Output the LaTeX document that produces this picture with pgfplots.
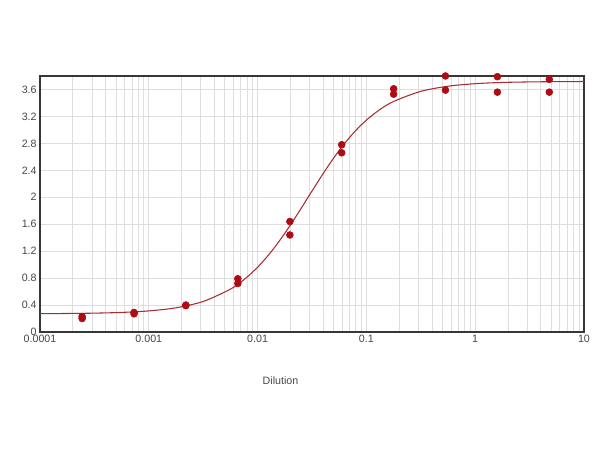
\documentclass[border=0pt]{standalone}
\usepackage{pgfplots}
\pgfplotsset{compat=1.18}
\usepackage{fontspec}
\setmainfont{Liberation Sans}

\definecolor{markred}{RGB}{172,12,20}
\definecolor{fitred}{RGB}{168,45,50}
\definecolor{gridgray}{RGB}{222,222,222}
\definecolor{framegray}{RGB}{55,55,55}
\definecolor{textgray}{RGB}{70,70,70}

\begin{document}
\begin{tikzpicture}
  \begin{axis}[
      scale only axis,
      width=408pt, height=192pt,
      xmode=log,
      xmin=0.0001, xmax=10,
      ymin=0, ymax=3.8,
      ytick={0,0.4,...,3.6},
      yticklabels={0,0.4,0.8,1.2,1.6,2,2.4,2.8,3.2,3.6},
      xtick={0.0001,0.001,0.01,0.1,1,10},
      xticklabels={0.0001,0.001,0.01,0.1,1,10},
      minor xtick={0.0002,0.0003,0.0004,0.0005,0.0006,0.0007,0.0008,0.0009,
                   0.002,0.003,0.004,0.005,0.006,0.007,0.008,0.009,
                   0.02,0.03,0.04,0.05,0.06,0.07,0.08,0.09,
                   0.2,0.3,0.4,0.5,0.6,0.7,0.8,0.9,
                   2,3,4,5,6,7,8,9},
      grid=both,
      major grid style={gridgray, line width=0.6pt},
      minor grid style={gridgray, line width=0.6pt},
      major tick length=0pt, minor tick length=0pt,
      axis line style={framegray, line width=1pt},
      tick label style={font=\fontsize{8}{9}\selectfont, text=textgray},
      /pgf/number format/assume math mode=true,
      xticklabel style={yshift=1pt},
      yticklabel style={xshift=1pt},
      clip=false,
    ]

    % fitted 4PL curve
    \addplot[fitred, line width=0.8pt, smooth, no marks] coordinates {
      (0.0001,0.272) (0.000178,0.2746) (0.000316,0.2797) (0.000562,0.2904)
      (0.001,0.3128) (0.00178,0.3592) (0.00316,0.4532) (0.00562,0.6356)
      (0.0075,0.777) (0.01,0.9613) (0.01334,1.191) (0.01778,1.4646)
      (0.02371,1.771) (0.03162,2.092) (0.04217,2.407) (0.05623,2.695)
      (0.07499,2.943) (0.1,3.145) (0.1334,3.303) (0.1778,3.422)
      (0.3162,3.572) (0.5623,3.648) (1,3.686) (1.778,3.704)
      (3.162,3.712) (5.623,3.716) (10,3.718)
    };

    % measured points
    \addplot[only marks, mark=*, mark size=2.6pt, markred] coordinates {
      (0.000244,0.23) (0.000244,0.20)
      (0.000732,0.29) (0.000732,0.27)
      (0.00219,0.40) (0.00219,0.39)
      (0.00658,0.79) (0.00658,0.72)
      (0.0198,1.64) (0.0198,1.44)
      (0.0593,2.78) (0.0593,2.66)
      (0.178,3.61) (0.178,3.53)
      (0.533,3.80) (0.533,3.59)
      (1.6,3.79) (1.6,3.56)
      (4.8,3.75) (4.8,3.56)
    };
  \end{axis}
  \node[text=textgray, font=\fontsize{8}{9}\selectfont] at ([xshift=180.4pt,yshift=-36.75pt]current axis.south west) {Dilution};
  \path ([xshift=-30pt,yshift=-88.5pt]current axis.south west) rectangle ([xshift=12pt,yshift=57pt]current axis.north east);
\end{tikzpicture}
\end{document}
